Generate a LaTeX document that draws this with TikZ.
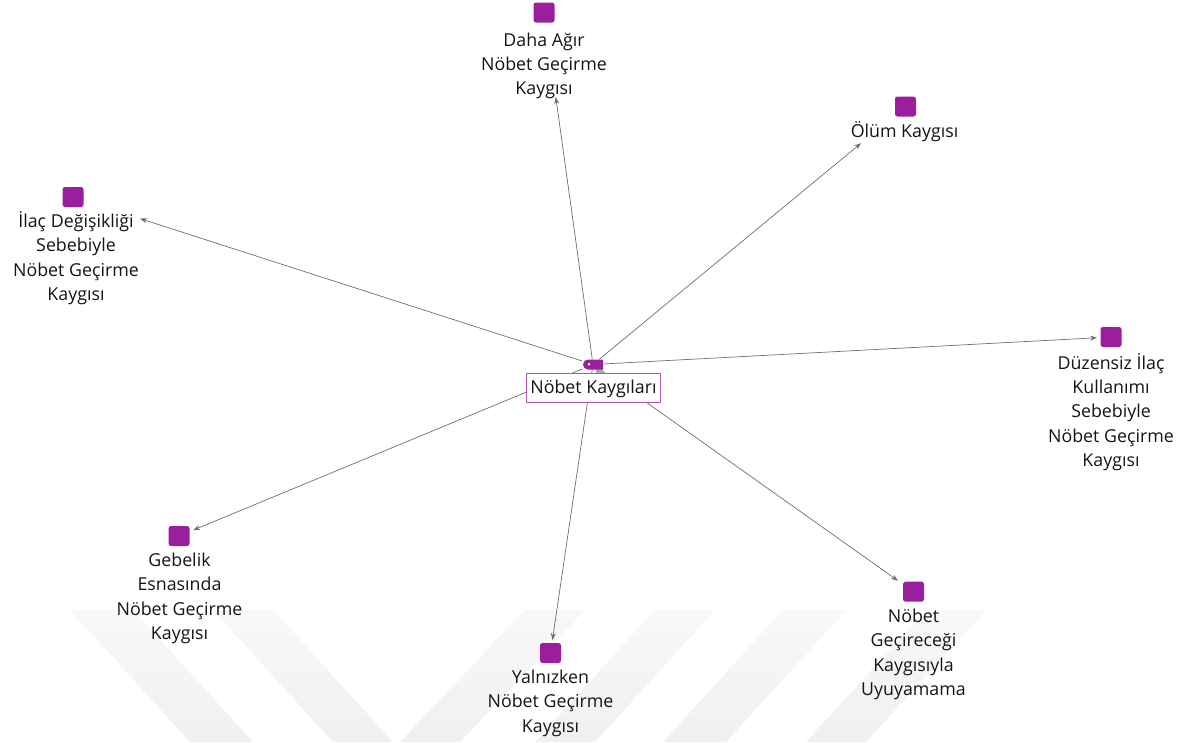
\documentclass[tikz,border=0pt]{standalone}
\usepackage{fontspec}
\setmainfont{Open Sans}
\usetikzlibrary{arrows.meta,backgrounds}
\definecolor{sqc}{HTML}{9A1F9C}
\definecolor{boxc}{HTML}{B35AB3}
\definecolor{arrc}{HTML}{6E6E6E}
\definecolor{wm}{HTML}{F0F0F0}
\definecolor{wmtop}{HTML}{F8F8F8}
\definecolor{stub}{HTML}{A8A8A8}
\begin{document}
\begin{tikzpicture}[x=1pt,y=-1pt,
  sq/.style={rectangle, fill=sqc, minimum width=21pt, minimum height=20pt, inner sep=0pt, rounded corners=2.5pt},
  lbl/.style={anchor=base, inner sep=0pt, font=\fontsize{17.8}{24.4}\selectfont, text=black!92},
  arr/.style={draw=arrc, line width=0.7pt, -{Stealth[length=7pt,width=5pt]}},
  wmk/.style={top color=wmtop, bottom color=wm, draw=none}]
\useasboundingbox (0,0) rectangle (1186,742);

% central node
\node[draw=boxc, line width=0.8pt, fill=white, minimum width=134pt, minimum height=29.4pt,
      inner sep=0pt, text height=14.5pt, text depth=3.5pt, anchor=base,
      font=\fontsize{17.8}{24.4}\selectfont, text=black!92] (ctr) at (593.5,393.5) {Nöbet Kaygıları};
\node[minimum width=21pt, minimum height=10pt, inner sep=0pt] (tag) at (593,364.5) {};
\fill[stub] (596,369) rectangle (603,373);
\fill[sqc] (603,359.5) -- (588,359.5) arc[start angle=270, end angle=90, radius=5] -- (603,369.5) -- cycle;
\fill[white] (589,364.3) circle[radius=1.4];

% outer squares
\node[sq] (sq1) at (544,12.5) {};
\node[sq] (sq2) at (905.5,106.5) {};
\node[sq] (sq3) at (73,197) {};
\node[sq] (sq4) at (1111,337) {};
\node[sq] (sq5) at (179,536) {};
\node[sq] (sq6) at (550.5,653) {};
\node[sq] (sq7) at (913.5,591.7) {};

% outer labels
\node[lbl] (t1) at (544,46) {\begin{tabular}[t]{@{}c@{}}Daha Ağır\\Nöbet Geçirme\\Kaygısı\end{tabular}};
\node[lbl] (t2) at (904.5,137) {\begin{tabular}[t]{@{}c@{}}Ölüm Kaygısı\end{tabular}};
\node[lbl] (t3) at (76,227.5) {\begin{tabular}[t]{@{}c@{}}İlaç Değişikliği\\Sebebiyle\\Nöbet Geçirme\\Kaygısı\end{tabular}};
\node[lbl] (t4) at (1111,369) {\begin{tabular}[t]{@{}c@{}}Düzensiz İlaç\\Kullanımı\\Sebebiyle\\Nöbet Geçirme\\Kaygısı\end{tabular}};
\node[lbl] (t5) at (179.5,566.5) {\begin{tabular}[t]{@{}c@{}}Gebelik\\Esnasında\\Nöbet Geçirme\\Kaygısı\end{tabular}};
\node[lbl] (t6) at (550.5,683.5) {\begin{tabular}[t]{@{}c@{}}Yalnızken\\Nöbet Geçirme\\Kaygısı\end{tabular}};
\node[lbl] (t7) at (913.5,622.5) {\begin{tabular}[t]{@{}c@{}}Nöbet\\Geçireceği\\Kaygısıyla\\Uyuyamama\end{tabular}};

\begin{pgfonlayer}{background}
  % watermark
  \shade[wmk] (70,610) -- (133,610) -- (253,742) -- (190,742) -- cycle;
  \shade[wmk] (213,610) -- (273,610) -- (393,742) -- (333,742) -- cycle;
  \shade[wmk] (525,610) -- (585,610) -- (460,742) -- (400,742) -- cycle;
  \shade[wmk] (655,610) -- (715,610) -- (595,742) -- (535,742) -- cycle;
  \shade[wmk] (783,610) -- (846,610) -- (726,742) -- (663,742) -- cycle;
  \shade[wmk] (926,610) -- (986,610) -- (866,742) -- (806,742) -- cycle;
  % connectors
  \draw[arr, shorten >=85.3pt] (tag) -- (sq1.center);
  \draw[arr, shorten >=57.6pt] (tag) -- (sq2.center);
  \draw[arr, shorten >=70.4pt] (tag) -- (sq3.center);
  \draw[arr, shorten >=14pt] (tag) -- (sq4.center);
  \draw[arr, shorten >=15.2pt] (tag) -- (sq5.center);
  \draw[arr, shorten >=13.1pt] (tag) -- (sq6.center);
  \draw[arr, shorten >=19pt] (tag) -- (sq7.center);
\end{pgfonlayer}
\end{tikzpicture}
\end{document}
